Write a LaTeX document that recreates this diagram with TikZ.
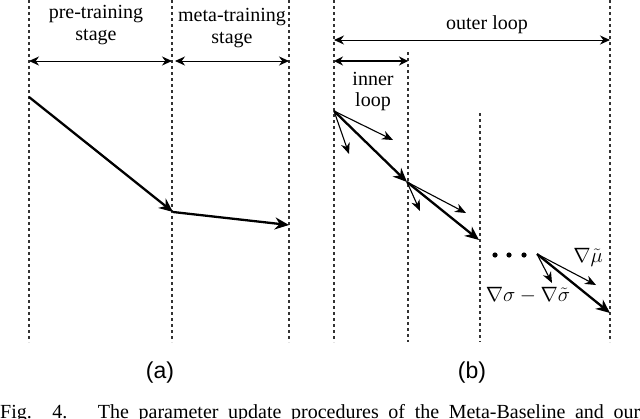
\documentclass[tikz,border=0pt]{standalone}
\usepackage{fontspec}
\setmainfont{Liberation Serif}
\setsansfont{Liberation Sans}
\usetikzlibrary{arrows.meta}
\begin{document}
\begin{tikzpicture}[x=1pt,y=-1pt,
  guide/.style={dashed,dash pattern=on 3pt off 3pt,line width=1.1pt,black!80},
  span/.style={line width=0.9pt,{Stealth[length=10pt,width=9pt]}-{Stealth[length=10pt,width=9pt]}},
  spanthick/.style={line width=1.8pt,{Stealth[length=9pt,width=9pt]}-{Stealth[length=9pt,width=9pt]}},
  bigstep/.style={line width=2.3pt,-{Stealth[length=14pt,width=12pt]}},
  smallstep/.style={line width=1.1pt,-{Stealth[length=11pt,width=9pt]}},
  lbl/.style={font=\fontsize{20}{24}\selectfont,anchor=base,inner sep=0pt},
  mlbl/.style={font=\fontsize{20}{24}\selectfont,inner sep=0pt},
  sub/.style={font=\sffamily\fontsize{23}{27}\selectfont,inner sep=0pt}]
\useasboundingbox (0,0) rectangle (640,418);
% ---------- panel (a) ----------
\coordinate (a1t) at (29,0);   \coordinate (a1b) at (29,342);
\coordinate (a2t) at (172,0);  \coordinate (a2b) at (172,342);
\coordinate (a3t) at (289,0);  \coordinate (a3b) at (289,342);
\draw[guide] (a1t) -- (a1b);
\draw[guide] (a2t) -- (a2b);
\draw[guide] (a3t) -- (a3b);
\node[lbl] (pre1) at (96,18) {pre-training};
\node[lbl] (pre2) at (96,40) {stage};
\node[lbl] (meta1) at (232,21) {meta-training};
\node[lbl] (meta2) at (232,43) {stage};
\coordinate (pl) at (29,61);  \coordinate (pr) at (172,61);
\coordinate (ml) at (175,61); \coordinate (mr) at (289,61);
\draw[span] (pl) -- (pr);
\draw[span] (ml) -- (mr);
\coordinate (p0) at (29,97);
\coordinate (p1) at (173,212);
\coordinate (p2) at (289,225);
\draw[bigstep] (p0) -- (p1);
\draw[bigstep] (p1) -- (p2);
\node[sub] (la) at (160,373) {(a)};
% ---------- panel (b) ----------
\coordinate (b1t) at (334,0);   \coordinate (b1b) at (334,342);
\coordinate (b2t) at (408,52);  \coordinate (b2b) at (408,342);
\coordinate (b3t) at (480,113); \coordinate (b3b) at (480,342);
\coordinate (b4t) at (610,0);   \coordinate (b4b) at (610,342);
\draw[guide] (b1t) -- (b1b);
\draw[guide] (b2t) -- (b2b);
\draw[guide] (b3t) -- (b3b);
\draw[guide] (b4t) -- (b4b);
\node[lbl] (outer) at (487,29) {outer loop};
\coordinate (ol) at (334,40); \coordinate (or) at (610,40);
\draw[span] (ol) -- (or);
\coordinate (il) at (334,61); \coordinate (ir) at (408,61);
\draw[spanthick] (il) -- (ir);
\node[lbl] (inner1) at (373,85) {inner};
\node[lbl] (inner2) at (373,106) {loop};
% first inner step
\coordinate (q0) at (334,111);
\coordinate (q1) at (407,182);
\coordinate (q0a) at (393,140);
\coordinate (q0b) at (349,154);
\draw[smallstep] (q0) -- (q0a);
\draw[smallstep] (q0) -- (q0b);
\draw[bigstep] (q0) -- (q1);
% second inner step
\coordinate (q2) at (479,240);
\coordinate (q1a) at (466,213);
\coordinate (q1b) at (420,211);
\draw[smallstep] (q1) -- (q1a);
\draw[smallstep] (q1) -- (q1b);
\draw[bigstep] (q1) -- (q2);
% dots
\fill (495,255) circle (2.6pt);
\fill (509,255) circle (2.6pt);
\fill (524,255) circle (2.6pt);
% last step
\coordinate (r0) at (537,254);
\coordinate (r1) at (610,313);
\coordinate (r0a) at (596,285);
\coordinate (r0b) at (552,283);
\draw[smallstep] (r0) -- (r0a);
\draw[smallstep] (r0) -- (r0b);
\draw[bigstep] (r0) -- (r1);
\node[mlbl] (gmu) at (588,257) {$\nabla\tilde{\mu}$};
\node[mlbl] (gsig) at (528,295) {$\nabla\sigma-\nabla\tilde{\sigma}$};
\node[sub] (lb) at (472,373) {(b)};
% ---------- caption ----------
\node[anchor=base west,inner sep=0pt,font=\fontsize{20}{24}\selectfont] (cap) at (0,418)
  {\makebox[640pt][s]{Fig. 4.\hspace{10pt} The parameter update procedures of the Meta-Baseline and our}};
\end{tikzpicture}
\end{document}
